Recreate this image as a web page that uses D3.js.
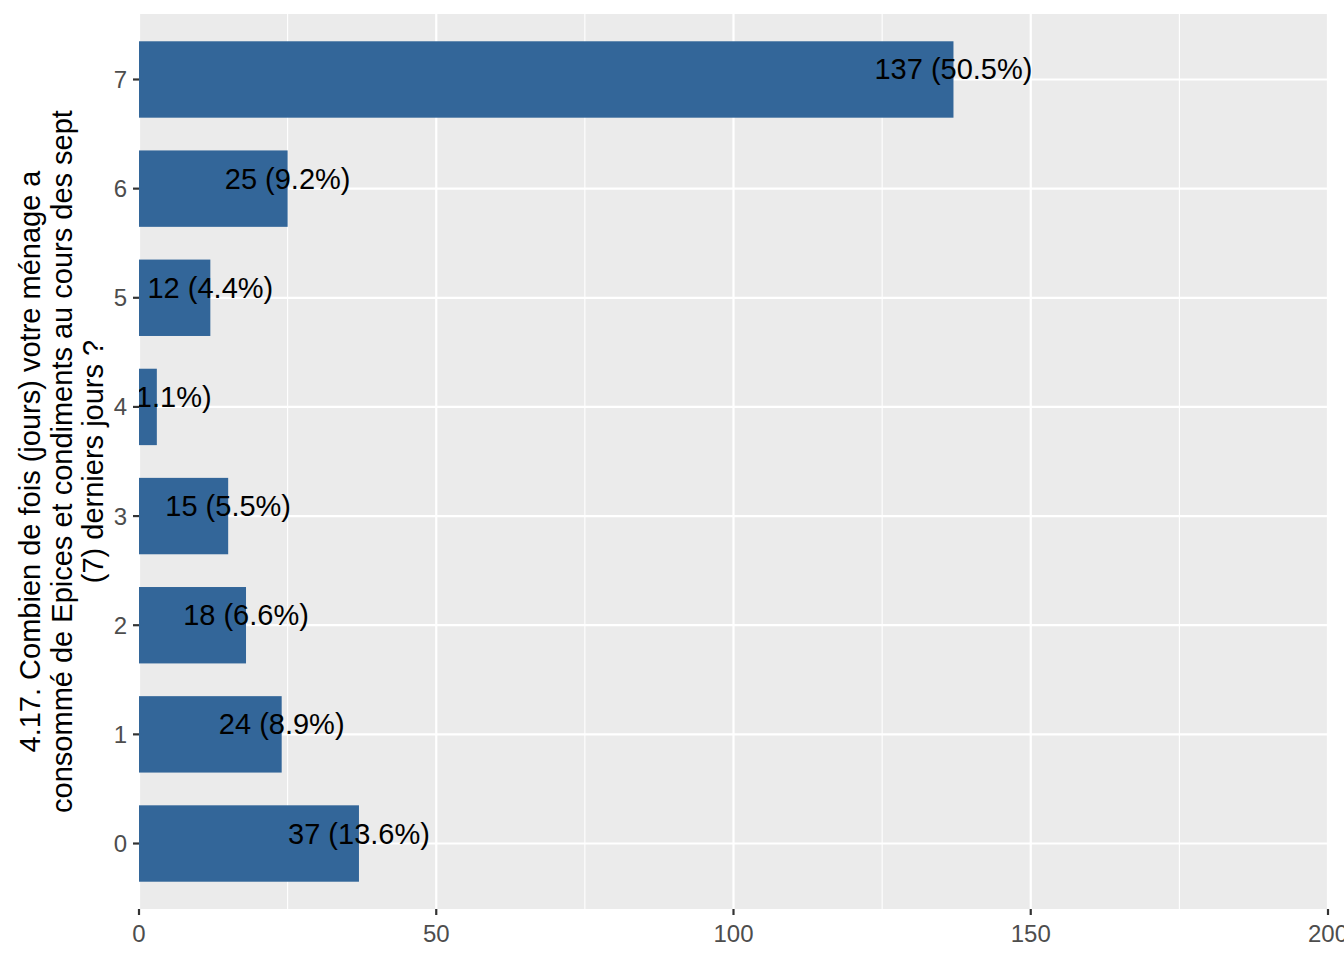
<!DOCTYPE html>
<html><head><meta charset="utf-8">
<script src="https://cdn.jsdelivr.net/npm/d3@7"></script>
<style>body{margin:0;background:#fff;} svg{display:block;font-family:"Liberation Sans",Arial,sans-serif;}</style>
</head><body>
<script>
const categories = ["0","1","2","3","4","5","6","7"];
const counts = [37, 24, 18, 15, 3, 12, 25, 137];
const percents = ["13.6%","8.9%","6.6%","5.5%","1.1%","4.4%","9.2%","50.5%"];
const xTicks = [0, 50, 100, 150, 200];
const xMinor = [25, 75, 125, 175];
const titleLines = ["4.17. Combien de fois (jours) votre ménage a", "consommé de Epices et condiments au cours des sept", "(7) derniers jours ?"];

const W = 1344, H = 960;
const L = 139, R = 1328, T = 14, B = 909;
const svg = d3.select("body").append("svg").attr("width", W).attr("height", H);

const x = d3.scaleLinear().domain([0, 200]).range([L, R]);
const n = categories.length;
const step = (B - T) / (n + 0.2);
const y = d3.scalePoint().domain(categories).range([B - 0.6 * step, T + 0.6 * step]);
const center = c => y(c);
const barH = step * 0.7;

svg.append("rect").attr("x", L).attr("y", T).attr("width", R - L).attr("height", B - T).attr("fill", "#EBEBEB");
svg.append("defs").append("clipPath").attr("id","clip").append("rect").attr("x", L).attr("y", T).attr("width", R - L).attr("height", B - T);

const g = svg.append("g").attr("clip-path","url(#clip)");
g.selectAll(".minor").data(xMinor).join("line").attr("x1", d => x(d)).attr("x2", d => x(d)).attr("y1", T).attr("y2", B).attr("stroke", "#fff").attr("stroke-width", 1.1);
g.selectAll(".major").data(xTicks).join("line").attr("x1", d => x(d)).attr("x2", d => x(d)).attr("y1", T).attr("y2", B).attr("stroke", "#fff").attr("stroke-width", 2.2);
g.selectAll(".hmaj").data(categories).join("line").attr("x1", L).attr("x2", R).attr("y1", d => center(d)).attr("y2", d => center(d)).attr("stroke", "#fff").attr("stroke-width", 2.2);

g.selectAll(".bar").data(categories).join("rect")
  .attr("x", x(0)).attr("y", d => center(d) - barH/2)
  .attr("width", (d,i) => x(counts[i]) - x(0)).attr("height", barH).attr("fill", "#336699");

g.selectAll(".lab").data(categories).join("text")
  .attr("x", (d,i) => x(counts[i])).attr("y", d => center(d) + 0)
  .attr("text-anchor", "middle").attr("font-size", 29).attr("fill", "#000")
  .text((d,i) => `${counts[i]} (${percents[i]})`);

// x axis
const xa = svg.append("g");
xa.selectAll("line").data(xTicks).join("line").attr("x1", d => x(d)).attr("x2", d => x(d)).attr("y1", B).attr("y2", B + 6).attr("stroke", "#333").attr("stroke-width", 2.2);
xa.selectAll("text").data(xTicks).join("text").attr("x", d => x(d)).attr("y", B + 33).attr("text-anchor", "middle").attr("font-size", 24).attr("fill", "#4D4D4D").text(d => d);

// y axis
const ya = svg.append("g");
ya.selectAll("line").data(categories).join("line").attr("x1", L - 6).attr("x2", L).attr("y1", d => center(d)).attr("y2", d => center(d)).attr("stroke", "#333").attr("stroke-width", 2.2);
ya.selectAll("text").data(categories).join("text").attr("x", L - 12).attr("y", d => center(d) + 8.5).attr("text-anchor", "end").attr("font-size", 24).attr("fill", "#4D4D4D").text(d => d);

// y title
const tc = (T + B) / 2;
const tt = svg.append("text").attr("transform", `translate(0,${tc}) rotate(-90)`).attr("text-anchor", "middle").attr("font-size", 29).attr("fill", "#000");
titleLines.forEach((s, i) => tt.append("tspan").attr("x", 0).attr("y", 40 + i * 31.5).text(s));
</script>
</body></html>
